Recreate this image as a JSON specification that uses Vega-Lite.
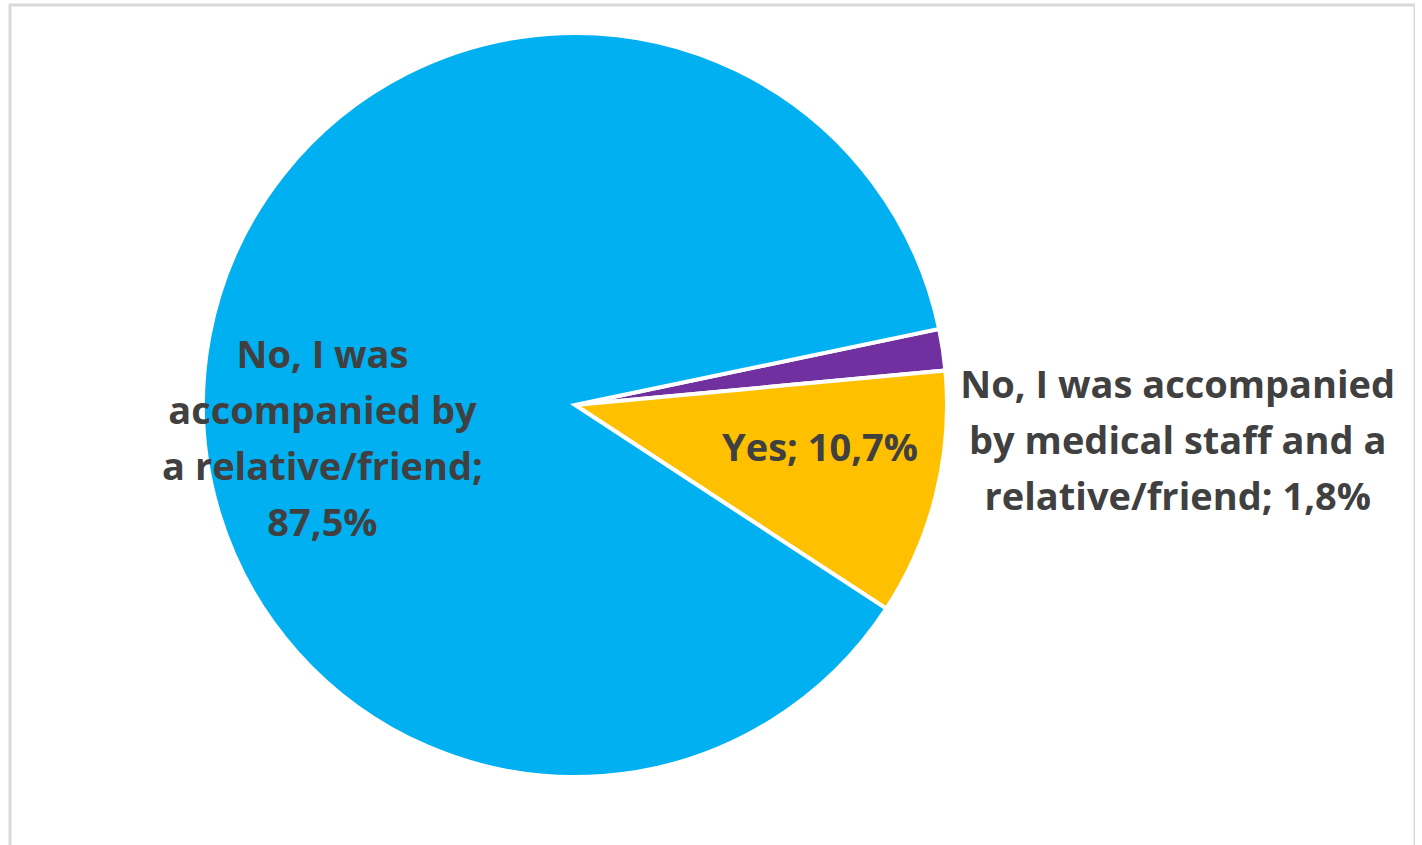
{
  "$schema": "https://vega.github.io/schema/vega-lite/v6.json",
  "width": 1405,
  "height": 840,
  "autosize": {"type": "none"},
  "padding": {"left": 10, "top": 5, "right": 0, "bottom": 0},
  "background": "white",
  "datasets": {
    "slices": [
      {"category": "No, I was accompanied by medical staff and a relative/friend", "value": 1.8, "order": 1, "label": "No, I was accompanied\nby medical staff and a\nrelative/friend; 1,8%"},
      {"category": "Yes", "value": 10.7, "order": 2, "label": "Yes; 10,7%"},
      {"category": "No, I was accompanied by a relative/friend", "value": 87.5, "order": 3, "label": "No, I was\naccompanied by\na relative/friend;\n87,5%"}
    ],
    "frame": [{"name": "frame"}]
  },
  "layer": [
    {
      "data": {"name": "frame"},
      "mark": {"type": "rect", "filled": false, "stroke": "#d9d9d9", "strokeWidth": 3, "y2": 860},
      "encoding": {}
    },
    {
      "data": {"name": "slices"},
      "mark": {"type": "arc", "outerRadius": 372, "stroke": "white", "strokeWidth": 4, "x": 565, "y": 400},
      "encoding": {
        "theta": {"field": "value", "type": "quantitative", "stack": true, "scale": {"domain": [0, 100], "range": [1.3648, 7.648]}},
        "order": {"field": "order", "type": "quantitative"},
        "color": {"field": "category", "type": "nominal", "legend": null,
          "scale": {"domain": ["No, I was accompanied by medical staff and a relative/friend", "Yes", "No, I was accompanied by a relative/friend"], "range": ["#7030A0", "#FFC000", "#00B0F0"]}}
      }
    },
    {
      "data": {"name": "slices"},
      "mark": {"type": "text", "x": 565, "y": 400, "radius": 257, "thetaOffset": 0, "font": "Open Sans", "fontWeight": "bold", "fontSize": 38, "fill": "#404040", "align": "center", "baseline": "middle", "lineBreak": "\n", "lineHeight": 56},
      "encoding": {
        "theta": {"field": "value", "type": "quantitative", "stack": true},
        "order": {"field": "order", "type": "quantitative"},
        "detail": {"field": "category", "type": "nominal"},
        "text": {"condition": {"test": "datum.order === 3", "field": "label"}, "value": ""}
      }
    },
    {
      "data": {"name": "slices"},
      "mark": {"type": "text", "x": 565, "y": 400, "radius": 249, "thetaOffset": -0.0635, "font": "Open Sans", "fontWeight": "bold", "fontSize": 38, "fill": "#404040", "align": "center", "baseline": "middle", "lineBreak": "\n", "lineHeight": 56},
      "encoding": {
        "theta": {"field": "value", "type": "quantitative", "stack": true},
        "order": {"field": "order", "type": "quantitative"},
        "detail": {"field": "category", "type": "nominal"},
        "text": {"condition": {"test": "datum.order === 2", "field": "label"}, "value": ""}
      }
    },
    {
      "data": {"name": "slices"},
      "mark": {"type": "text", "x": 565, "y": 400, "radius": 603, "thetaOffset": 0.1196, "font": "Open Sans", "fontWeight": "bold", "fontSize": 38, "fill": "#404040", "align": "center", "baseline": "middle", "lineBreak": "\n", "lineHeight": 56},
      "encoding": {
        "theta": {"field": "value", "type": "quantitative", "stack": true},
        "order": {"field": "order", "type": "quantitative"},
        "detail": {"field": "category", "type": "nominal"},
        "text": {"condition": {"test": "datum.order === 1", "field": "label"}, "value": ""}
      }
    }
  ]
}
